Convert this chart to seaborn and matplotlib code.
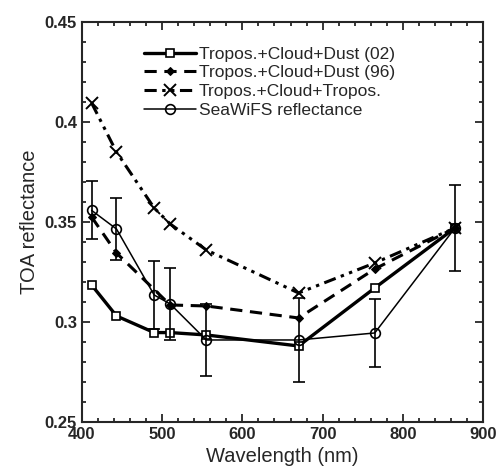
import numpy as np
import pandas as pd
import matplotlib
matplotlib.use("Agg")
import matplotlib.pyplot as plt
import seaborn as sns
from matplotlib.ticker import MultipleLocator

# SeaWiFS bands
wavelength = [412, 443, 490, 510, 555, 670, 765, 865]

dust_02 = [0.3185, 0.303, 0.2947, 0.2947, 0.2935, 0.288, 0.317, 0.347]
dust_96 = [0.3525, 0.3345, None, 0.3085, 0.308, 0.302, 0.3265, 0.347]
tropos = [0.4095, 0.385, 0.357, 0.349, 0.336, 0.3145, 0.3295, 0.347]
seawifs = [0.3558, 0.3465, 0.3135, 0.309, 0.291, 0.291, 0.2945, 0.347]
seawifs_err = [0.0145, 0.0155, 0.017, 0.018, 0.0178, 0.021, 0.017, 0.0215]

labels = ["Tropos.+Cloud+Dust (02)", "Tropos.+Cloud+Dust (96)",
          "Tropos.+Cloud+Tropos.", "SeaWiFS reflectance"]

df = pd.DataFrame({"wl": wavelength, "d02": dust_02, "d96": dust_96,
                   "tr": tropos, "sw": seawifs})

sns.set_style("ticks")
plt.rcParams["font.family"] = ["Liberation Sans", "DejaVu Sans"]

fig = plt.figure(figsize=(4.99, 4.72), dpi=100)
ax = fig.add_axes([0.1643, 0.106, 0.8037, 0.8474])

sns.lineplot(data=df, x="wl", y="d02", ax=ax, color="black", lw=2.4,
             marker="s", markersize=6, markerfacecolor="white",
             markeredgecolor="black", markeredgewidth=1.2, label=labels[0])
d96 = df.dropna(subset=["d96"])
sns.lineplot(data=d96, x="wl", y="d96", ax=ax, color="black", lw=2.2,
             marker="D", markersize=4, markerfacecolor="black",
             markeredgecolor="black", label=labels[1])
ax.lines[-1].set_dashes([4, 2.5])
sns.lineplot(data=df, x="wl", y="tr", ax=ax, color="black", lw=2.2,
             marker="x", markersize=8, markeredgewidth=1.4,
             markeredgecolor="black", label=labels[2])
ax.lines[-1].set_dashes([4, 1.8, 1.1, 1.8, 1.1, 1.8])
ax.errorbar(wavelength, seawifs, yerr=seawifs_err, fmt="none",
            ecolor="black", elinewidth=1.2, capsize=4, capthick=1.2)
sns.lineplot(data=df, x="wl", y="sw", ax=ax, color="black", lw=1.1,
             marker="o", markersize=7, markerfacecolor="none",
             markeredgecolor="black", markeredgewidth=1.2, label=labels[3])

ax.set_xlim(400, 900)
ax.set_ylim(0.25, 0.45)
ax.xaxis.set_major_locator(MultipleLocator(100))
ax.xaxis.set_minor_locator(MultipleLocator(20))
ax.yaxis.set_minor_locator(MultipleLocator(0.01))
ax.set_yticks([0.25, 0.3, 0.35, 0.4, 0.45])
ax.set_yticklabels(["0.25", "0.3", "0.35", "0.4", "0.45"])
ax.tick_params(which="both", direction="in", top=True, right=True,
               width=1.3, labelsize=12)
ax.tick_params(which="major", length=6)
ax.tick_params(which="minor", length=3)
for t in ax.get_xticklabels() + ax.get_yticklabels():
    t.set_fontweight("bold")
for s in ax.spines.values():
    s.set_linewidth(1.5)

ax.set_xlabel("Wavelength (nm)", fontsize=14.5, labelpad=4)
ax.set_ylabel("TOA reflectance", fontsize=14.5, labelpad=4)

ax.legend(loc="upper left", bbox_to_anchor=(0.147, 0.947), frameon=False,
          fontsize=12.5, handlelength=3.0, handletextpad=0.15,
          labelspacing=0.2, borderpad=0.2, borderaxespad=0.0)

fig.savefig("out.png", dpi=100)
